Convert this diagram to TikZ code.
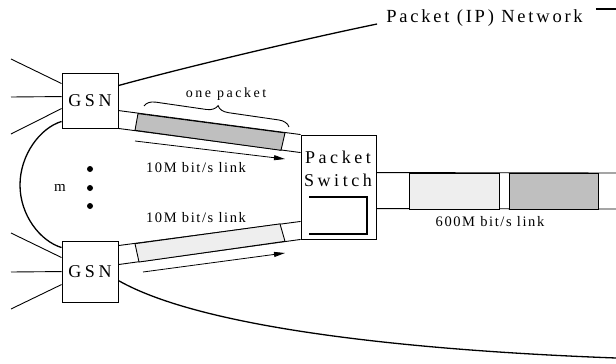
\documentclass[tikz,border=0pt]{standalone}
\usepackage{fontspec}
\setmainfont{Liberation Serif}
\newfontfamily\netfont[LetterSpace=15]{Liberation Serif}
\newfontfamily\boxfont[LetterSpace=20]{Liberation Serif}
\newfontfamily\linkfont[LetterSpace=11]{Liberation Serif}
\newfontfamily\pktfont[LetterSpace=18]{Liberation Serif}
\usetikzlibrary{arrows.meta,decorations.pathreplacing,calc}
\begin{document}
\begin{tikzpicture}[x=1pt,y=-1pt,
  wire/.style={line width=0.9pt},
  boundary/.style={line width=1.3pt},
  boxnode/.style={draw,line width=0.9pt,inner sep=0pt,minimum width=56pt,
    font=\boxfont\fontsize{18}{20}\selectfont},
  boxtext/.style={inner sep=0pt,anchor=base,font=\boxfont\fontsize{18}{20}\selectfont},
  linktext/.style={inner sep=0pt,anchor=base,font=\linkfont\fontsize{14.5}{16}\selectfont},
  lightpkt/.style={draw,line width=0.9pt,fill=gray!13},
  darkpkt/.style={draw,line width=0.9pt,fill=gray!50},
  flow/.style={line width=0.8pt,-{Triangle[length=11pt,width=5pt]}},
  dot/.style={circle,fill,inner sep=0pt,minimum size=6pt}]

\fill[white] (0,0) rectangle (616,364);
\useasboundingbox (0,0) rectangle (616,364);

% gateway support nodes and the packet switch
\node[boxnode,minimum height=55pt] (g1) at (90,100.5) {GSN};
\node[boxnode,minimum height=61pt] (g2) at (90,271.5) {GSN};
\node[draw,line width=0.9pt,inner sep=0pt,minimum width=75pt,minimum height=104pt] (sw) at (338.5,187) {};
\node[boxtext] (swa) at (338,163) {Packet};
\node[boxtext] (swb) at (338,186) {Switch};
\draw[line width=1.4pt] (309,197) -- (367,197) -- (367,234) -- (309,234);

% access lines fanning into each GSN
\coordinate (fa1) at (11,59);  \coordinate (fa2) at (11,97);  \coordinate (fa3) at (11,134);
\coordinate (fb1) at (11,233); \coordinate (fb2) at (11,272); \coordinate (fb3) at (11,309);
\draw[wire] (fa1) -- ($(g1.north west)+(0,11)$);
\draw[wire] (fa2) -- ($(g1.north west)+(0,24)$);
\draw[wire] (fa3) -- ($(g1.north west)+(0,36)$);
\draw[wire] (fb1) -- ($(g2.north west)+(0,17)$);
\draw[wire] (fb2) -- ($(g2.north west)+(0,31)$);
\draw[wire] (fb3) -- ($(g2.north west)+(0,44)$);

% network boundary
\node[inner sep=0pt,anchor=base,font=\netfont\fontsize{18.5}{20}\selectfont] (net) at (484.5,22) {Packet (IP) Network};
\coordinate (edgeT) at (616,9);
\coordinate (edgeB) at (616,358);
\draw[boundary] ($(g1.north east)+(0,13)$) .. controls (175,70) and (290,42) .. ($(net.base west)+(-9,2)$);
\draw[boundary] ($(net.base east)+(13,-13)$) -- (edgeT);
\draw[boundary] ($(g2.north east)+(0,40)$) .. controls (200,327) and (400,350) .. (edgeB);
\draw[boundary] ($(g1.south west)+(0,-7)$) .. controls (40,128) and (20,155) .. (20,185)
  .. controls (20,215) and (40,241) .. ($(g2.north west)+(0,7)$);

% 10 Mbit/s links
\draw[wire] ($(g1.north east)+(0,38)$) -- (sw.north west);
\draw[wire] (g1.south east) -- ($(sw.north west)+(0,18)$);
\draw[darkpkt] (138,113.6) -- (285,132.9) -- (281,150.3) -- (135,130.3) -- cycle;
\draw[wire] ($(g2.north east)+(0,5)$) -- ($(sw.south west)+(0,-18)$);
\draw[wire] ($(g2.north east)+(0,24)$) -- (sw.south west);
\draw[lightpkt] (135,243.7) -- (280,223.9) -- (285,241.3) -- (139,262.0) -- cycle;

\coordinate (a1s) at (135,141); \coordinate (a1e) at (285,159);
\coordinate (a2s) at (143,272); \coordinate (a2e) at (285,253);
\draw[flow] (a1s) -- (a1e);
\draw[flow] (a2s) -- (a2e);

\draw[wire,decorate,decoration={brace,amplitude=11pt}] (144,106) -- (289,127);
\node[inner sep=0pt,anchor=base,font=\pktfont\fontsize{14}{16}\selectfont] (op) at (226,97) {one packet};
\node[linktext] (l1) at (196,172) {10M bit/s link};
\node[linktext] (l2) at (196,222) {10M bit/s link};

% m GSNs
\node[inner sep=0pt,anchor=base,font=\fontsize{15}{17}\selectfont] (m) at (60,191) {m};
\node[dot] (d1) at (90,169) {};
\node[dot] (d2) at (90,188) {};
\node[dot] (d3) at (90,206) {};

% 600 Mbit/s link
\coordinate (r1) at (616,173); \coordinate (r2) at (616,209);
\draw[wire] ($(sw.north east)+(0,38)$) -- (r1);
\draw[wire] ($(sw.north east)+(0,74)$) -- (r2);
\draw[lightpkt] (409,173) rectangle (499,209);
\draw[darkpkt] (509,173) rectangle (598,209);
\node[linktext] (l3) at (490,226) {600M bit/s link};
\end{tikzpicture}
\end{document}
